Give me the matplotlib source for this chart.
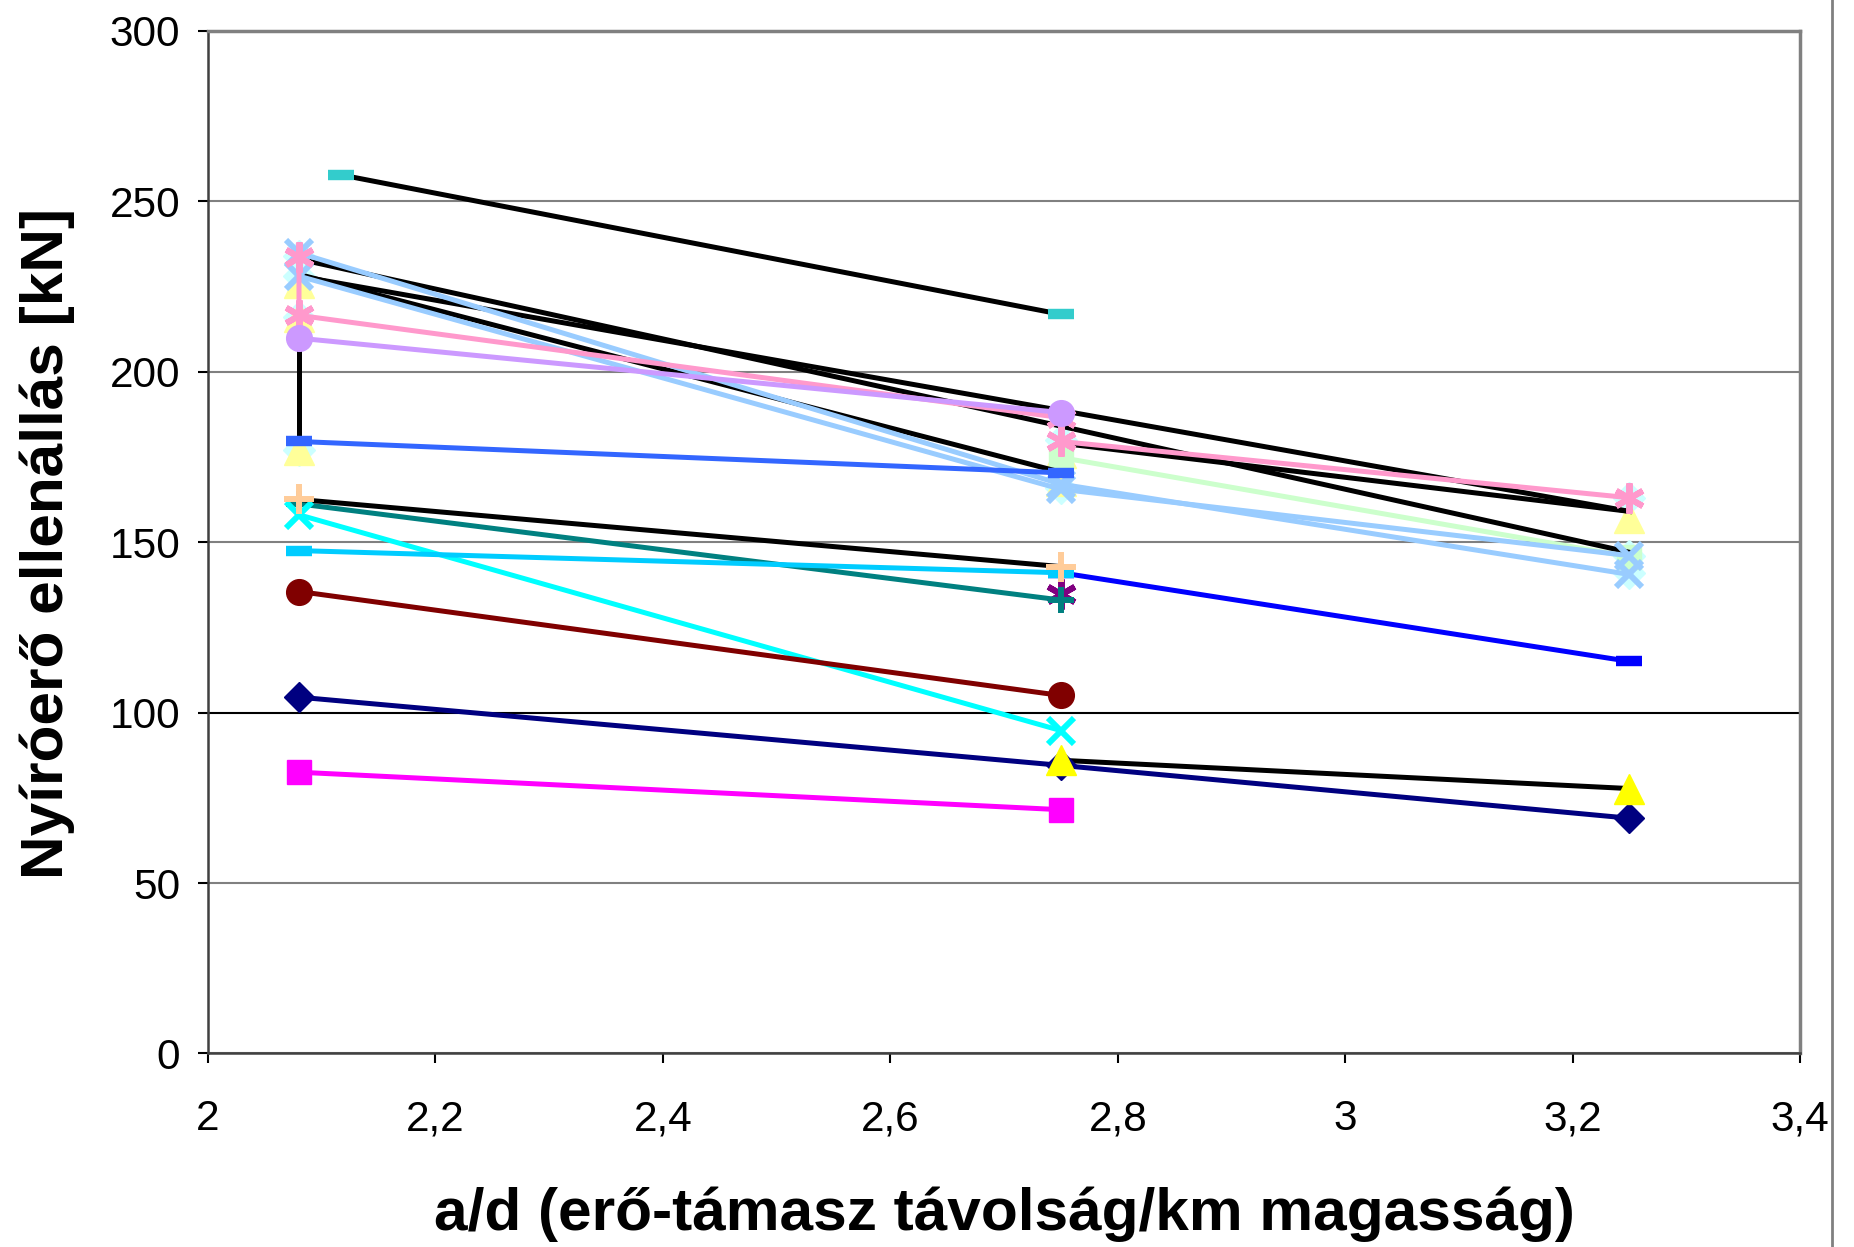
import matplotlib
matplotlib.use("Agg")
import matplotlib.pyplot as plt
import numpy as np
from matplotlib.ticker import FuncFormatter

plt.rcParams['font.family'] = ['Liberation Sans', 'DejaVu Sans']

# ---- data (a/d positions and shear resistance values in kN) ----
X = [2.08, 2.75, 3.25]
X_LEFT_MID = [2.08, 2.75]
X_MID_RIGHT = [2.75, 3.25]

navy_diamond = [104.5, 84.5, 69.0]
magenta_square = [82.5, 71.5]
darkred_circle = [135.5, 105.0]
cyan_x = [158.0, 94.7]
sky_dash = [147.5, 141.0]
blue_dash = [141.0, 115.0]
teal_plus = [161.2, 133.0]
peach_plus = [162.5, 142.8]
purple_star_x = [2.75]
purple_star = [134.8]
yellow_triangle = [86.0, 77.7]
royal_dash = [179.5, 170.3]
lilac_circle = [209.8, 188.0]
black_vert_x = [2.08, 2.08]
black_vert = [209.8, 179.5]
pink_x = [2.08, 2.08, 2.75, 2.75, 3.25]
pink_star = [233.5, 216.5, 186.5, 179.5, 163.0]
turq_x = [2.117, 2.75]
turq_dash = [257.7, 216.8]
black1 = [228.0, 188.6, 159.0]
black2 = [233.0, 184.0, 147.0]
black3 = [228.5, 170.5]
black4 = [179.0, 159.0]
lightblue1 = [234.8, 167.0, 140.5]
lightblue2 = [228.0, 165.5, 146.0]
light_green = [174.8, 145.7]
pale_tri_x = [2.08, 2.08, 2.08, 2.75, 2.75, 3.25]
pale_tri = [226.0, 216.0, 177.0, 176.0, 168.0, 157.0]
lcyan_x = [2.08, 2.08, 2.08, 2.08, 2.75, 2.75, 3.25, 3.25, 3.25]
lcyan_dia = [234.0, 228.0, 216.0, 177.0, 180.0, 166.0, 163.0, 146.0, 141.0]

y_ticks = [0, 50, 100, 150, 200, 250, 300]
x_ticks = [2.0, 2.2, 2.4, 2.6, 2.8, 3.0, 3.2, 3.4]

fig = plt.figure(figsize=(18.54, 12.47), dpi=100)
ax = fig.add_axes([0.1122, 0.1552, 0.8587, 0.8202])

LW = 3.6
MEW = 4.3
STAR = (6, 2, 0)

# background-ish markers
ax.plot(lcyan_x, lcyan_dia, ls='none', marker='D', ms=16, color='#CCFFFF', mec='#CCFFFF', zorder=2)
ax.plot(pale_tri_x, pale_tri, ls='none', marker='^', ms=21, color='#FFFF99', mec='#FFFF99', zorder=2)

# lines with markers
ax.plot(X_MID_RIGHT, light_green, color='#CCFFCC', lw=LW, marker='s', ms=17, mec='#CCFFCC', zorder=2.5)
ax.plot(X, black1, color='black', lw=LW, zorder=3)
ax.plot(X, black2, color='black', lw=LW, zorder=3)
ax.plot(X_LEFT_MID, black3, color='black', lw=LW, zorder=3)
ax.plot(X_MID_RIGHT, black4, color='black', lw=LW, zorder=3)
ax.plot(black_vert_x, black_vert, color='black', lw=LW, zorder=3)
ax.plot(X, lightblue1, color='#99CCFF', lw=LW, marker='x', ms=19, mew=MEW, zorder=3.2)
ax.plot(X, lightblue2, color='#99CCFF', lw=LW, marker='x', ms=19, mew=MEW, zorder=3.2)
ax.plot(pink_x, pink_star, color='#FF99CC', lw=LW, marker=STAR, ms=22, mew=MEW, zorder=3.3)
ax.plot(X_LEFT_MID, lilac_circle, color='#CC99FF', lw=LW, marker='o', ms=18.5, mec='#CC99FF', zorder=3.4)
ax.plot(X_LEFT_MID, royal_dash, color='#3366FF', lw=LW, marker='_', ms=19, mew=7.5, zorder=3.4)
ax.plot(turq_x, turq_dash, color='black', lw=LW, zorder=3)
ax.plot(turq_x, turq_dash, ls='none', marker='_', ms=19, mew=7.5, color='#33CCCC', zorder=3.5)

ax.plot(X_LEFT_MID, teal_plus, color='#008080', lw=LW, marker='+', ms=19, mew=MEW, zorder=3.4)
ax.plot(purple_star_x, purple_star, ls='none', marker=STAR, ms=22, mew=MEW, color='#800080', zorder=3.3)
ax.plot(X_LEFT_MID, peach_plus, color='black', lw=LW, zorder=3.4)
ax.plot(X_LEFT_MID, peach_plus, ls='none', marker='+', ms=22, mew=MEW, color='#FFCC99', zorder=3.6)
ax.plot(X_LEFT_MID, cyan_x, color='#00FFFF', lw=LW, marker='x', ms=19, mew=MEW, zorder=3.4)
ax.plot(X_LEFT_MID, sky_dash, color='#00CCFF', lw=LW, marker='_', ms=19, mew=7.5, zorder=3.5)
ax.plot(X_MID_RIGHT, blue_dash, color='#0000FF', lw=LW, marker='_', ms=19, mew=7.5, zorder=3.4)
ax.plot(X_LEFT_MID, darkred_circle, color='#800000', lw=LW, marker='o', ms=18.5, mec='#800000', zorder=3.4)
ax.plot(X, navy_diamond, color='#000080', lw=LW, marker='D', ms=15, mec='#000080', zorder=3.4)
ax.plot(X_MID_RIGHT, yellow_triangle, color='black', lw=LW, zorder=3.3)
ax.plot(X_MID_RIGHT, yellow_triangle, ls='none', marker='^', ms=22, color='#FFFF00', mec='#FFFF00', zorder=3.6)
ax.plot(X_LEFT_MID, magenta_square, color='#FF00FF', lw=LW, marker='s', ms=17, mec='#FF00FF', zorder=3.4)

ax.set_xlim(2.0, 3.4)
ax.set_ylim(0, 300)
ax.set_xticks(x_ticks)
ax.set_yticks(y_ticks)
ax.xaxis.set_major_formatter(FuncFormatter(lambda v, p: ('%g' % round(v, 1)).replace('.', ',')))
ax.tick_params(axis='both', labelsize=30.5, length=7, width=1.5, colors='black', direction='out')
ax.tick_params(axis='x', pad=26)
ax.tick_params(axis='y', pad=13)

ax.grid(axis='y', color='#808080', lw=1.5, zorder=1)
for gl, t in zip(ax.get_ygridlines(), y_ticks):
    if t == 100:
        gl.set_color('black')

for s in ['top', 'right']:
    ax.spines[s].set_color('#808080')
    ax.spines[s].set_linewidth(2.5)
for s in ['left', 'bottom']:
    ax.spines[s].set_color('#404040')
    ax.spines[s].set_linewidth(1.8)

ax.set_xlabel('a/d (erő-támasz távolság/km magasság)', fontsize=43.5, fontweight='bold', va='center')
ax.set_ylabel('Nyíróerő ellenállás [kN]', fontsize=43.5, fontweight='bold', va='center')
ax.xaxis.set_label_coords(0.5415, 0.0265, transform=fig.transFigure)
ax.yaxis.set_label_coords(0.0255, 0.564, transform=fig.transFigure)

# chart-area right border
fig.add_artist(plt.Rectangle((1832/1854, 0), 1 - 1832/1854, 1, transform=fig.transFigure,
                             facecolor='white', edgecolor='none', zorder=10))
fig.add_artist(plt.Line2D([1832/1854, 1832/1854], [0, 1], transform=fig.transFigure,
                          color='#808080', lw=2, zorder=11))

fig.savefig('out.png', dpi=100)
